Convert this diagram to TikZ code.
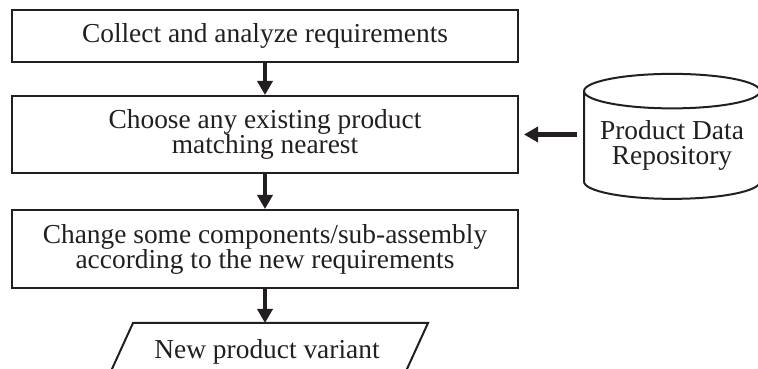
\documentclass[tikz,border=0pt]{standalone}
\usepackage{fontspec}
\setmainfont{Liberation Serif}
\usetikzlibrary{positioning, arrows.meta, shapes.geometric}

\definecolor{ink}{HTML}{231F20}

\begin{document}
\begin{tikzpicture}[x=1pt, y=1pt,
  txt/.style={font=\fontsize{27.4}{25}\selectfont, text=ink, align=center},
  stepbox/.style={txt, draw=ink, line width=2pt, minimum width=506pt, inner sep=0pt},
  flow/.style={draw=ink, line width=4.5pt, -{Triangle[width=15pt, length=14pt]}}]

\useasboundingbox (0, 0) rectangle (758, 369);

\node[stepbox, minimum height=52pt] (collect) at (265, 333) {Collect and analyze requirements};
\node[stepbox, minimum height=77pt] (choose) at (265, 234.5) {Choose any existing product\\matching nearest};
\node[stepbox, minimum height=78pt] (change) at (265, 120) {Change some components/sub-assembly\\according to the new requirements};

\node[txt, cylinder, shape border rotate=90, draw=ink, line width=2pt, aspect=0.24,
  minimum width=176pt, minimum height=125pt, inner sep=0pt] (repo) at (672, 223.5) {Product Data\\Repository};

% output, cut off by the page
\draw[ink, line width=2pt] (107.4, -10) -- (133, 46) -- (428, 46) -- (402.4, -10);
\coordinate (vtop) at (265, 46);
\node[txt] (variant) at (267, 17) {New product variant};

\draw[flow] (collect) -- (choose);
\draw[flow] (choose) -- (change);
\draw[flow] (change) -- (vtop);
\draw[flow, shorten <=6pt, shorten >=5pt] (repo.west |- choose.east) -- (choose.east);

\end{tikzpicture}
\end{document}
